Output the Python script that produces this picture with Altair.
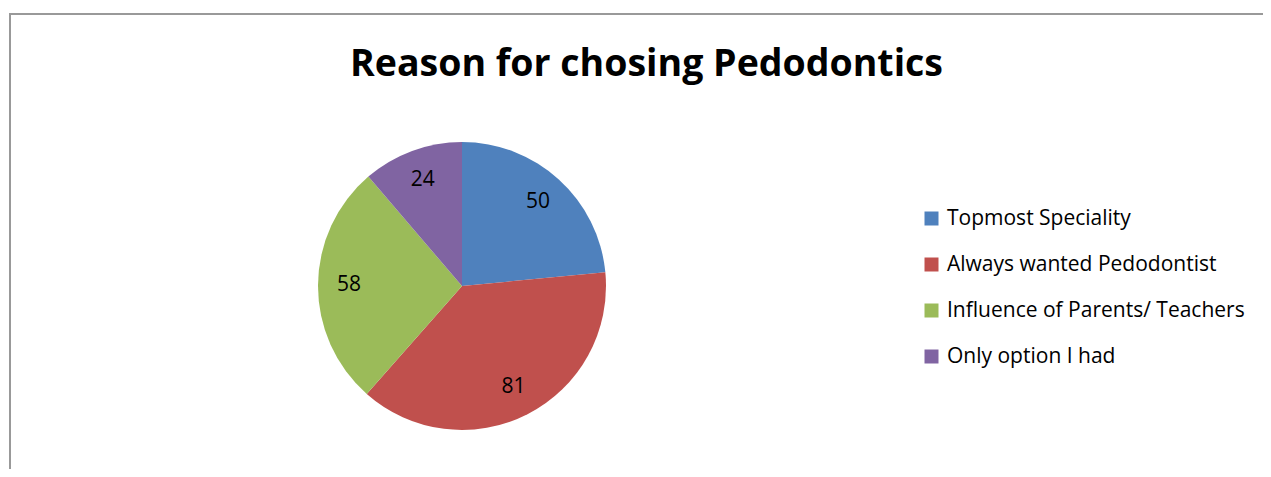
import altair as alt
import pandas as pd

categories = ["Topmost Speciality", "Always wanted Pedodontist",
              "Influence of Parents/ Teachers", "Only option I had"]
values = [50, 81, 58, 24]
colors = ["#4F81BD", "#C0504D", "#9BBB59", "#8064A2"]
title_text = "Reason for chosing Pedodontics"

df = pd.DataFrame({"category": categories, "value": values,
                   "idx": list(range(len(categories)))})

FONT = "Open Sans"
CX, CY, R = 454, 278, 144

base = alt.Chart(df)

theta = alt.Theta("value:Q", stack=True)
order = alt.Order("idx:Q", sort="ascending")

arcs = base.mark_arc(outerRadius=R).encode(
    theta=theta,
    order=order,
    color=alt.Color(
        "category:N",
        scale=alt.Scale(domain=categories, range=colors),
        sort=categories,
        legend=alt.Legend(
            orient="none", legendX=913, legendY=200, title=None,
            symbolType="square", symbolSize=196, symbolStrokeWidth=0,
            labelFontSize=21, labelFont=FONT, labelColor="black",
            rowPadding=24, labelOffset=5, padding=0, labelLimit=0,
        ),
    ),
    x=alt.value(CX), y=alt.value(CY),
)

labels = base.mark_text(radius=113, fontSize=21, font=FONT, color="black").encode(
    theta=theta,
    order=order,
    text="value:Q",
    x=alt.value(CX), y=alt.value(CY),
)

one = pd.DataFrame({"t": [title_text]})
title = alt.Chart(one).mark_text(
    font=FONT, fontSize=37.5, fontWeight="bold", color="black",
    baseline="alphabetic", align="center",
).encode(text="t:N", x=alt.value(638.5), y=alt.value(67.5))

border = alt.Chart(one).mark_rect(
    fillOpacity=0, stroke="#999999", strokeWidth=2
).encode(x=alt.value(2), x2=alt.value(1400), y=alt.value(6), y2=alt.value(700))

chart = alt.layer(border, title, arcs, labels).properties(
    width=1255, height=461,
    autosize=alt.AutoSizeParams(type="none"),
    padding=0, background="white",
).configure_view(stroke=None)

chart.save("out.html", embed_options={"renderer": "svg", "actions": False})
